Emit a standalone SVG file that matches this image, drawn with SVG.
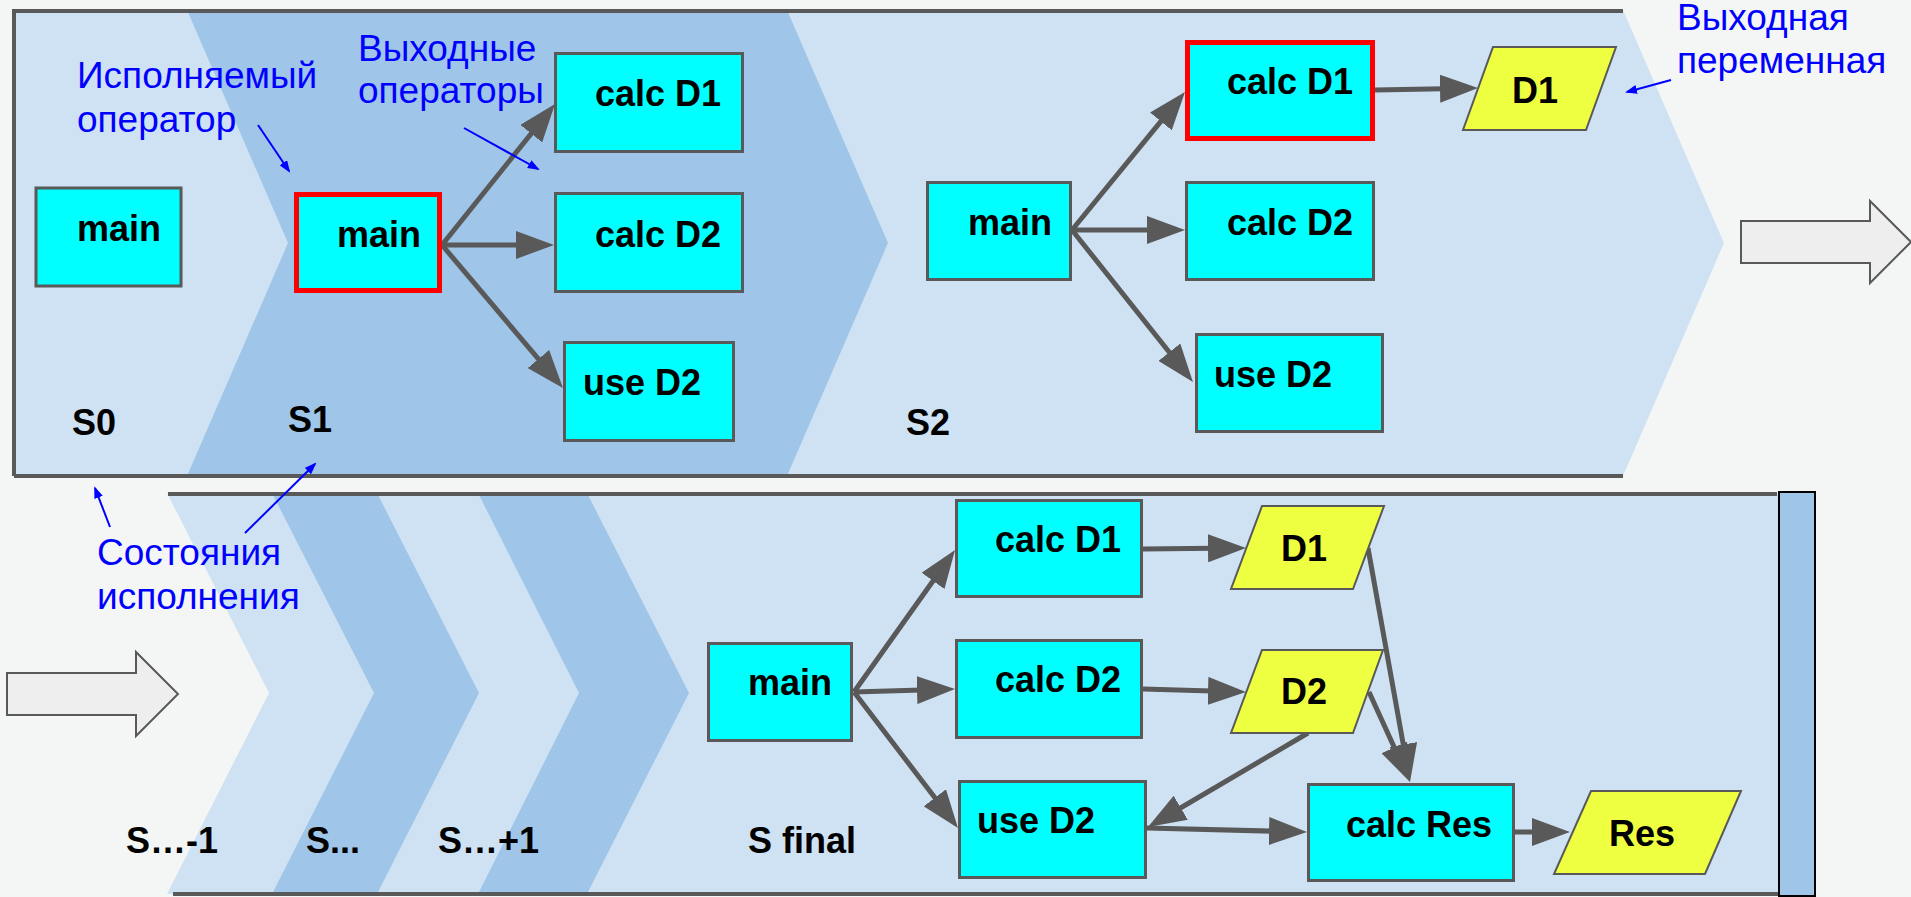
<svg xmlns="http://www.w3.org/2000/svg" width="1911" height="897" viewBox="0 0 1911 897">
  <style>
    .bg { fill: #f4f6f5; }
    .light { fill: #cfe2f3; }
    .dark { fill: #9fc5e8; }
    .frame { fill: none; stroke: #595959; stroke-width: 4; }
    .op { fill: #00ffff; stroke: #595959; stroke-width: 3; }
    .op-active { fill: #00ffff; stroke: #ff0000; stroke-width: 5; }
    .var { fill: #eeff41; stroke: #595959; stroke-width: 2; }
    .big-arrow { fill: #eeeeee; stroke: #595959; stroke-width: 2; }
    .t { font-family: "Liberation Sans", Arial, sans-serif; font-weight: bold; font-size: 36px; fill: #000000; }
    .note { font-family: "Liberation Sans", Arial, sans-serif; font-size: 37px; fill: #0000ff; }
    .edge { fill: none; stroke: #595959; stroke-width: 5; marker-end: url(#head); }
    .pointer { fill: none; stroke: #0000ff; stroke-width: 2; marker-end: url(#bhead); }
  </style>
  <defs>
    <marker id="head" markerUnits="userSpaceOnUse" viewBox="0 0 38 28" refX="30" refY="14" markerWidth="38" markerHeight="28" orient="auto">
      <path d="M0,0 L38,14 L0,28 z" fill="#595959"/>
    </marker>
    <marker id="bhead" markerUnits="userSpaceOnUse" viewBox="0 0 12 9" refX="10" refY="4.5" markerWidth="12" markerHeight="9" orient="auto">
      <path d="M0,0 L12,4.5 L0,9 z" fill="#0000ff"/>
    </marker>
  </defs>

  <rect class="bg" x="0" y="0" width="1911" height="897"/>

  <!-- upper strip: states S0, S1, S2 -->
  <g id="upper-band">
    <polygon class="light" points="13,10 1623,10 1724,243 1623,476 13,476"/>
    <polygon class="dark" points="187,10 787,10 888,243 787,476 187,476 288,243"/>
    <path class="frame" d="M14,476 V11 H1623 M14,476 H1623"/>
  </g>

  <!-- lower strip: intermediate states and final state -->
  <g id="lower-band">
    <polygon class="light" points="167,493 1779,493 1779,894 167,894 269,693"/>
    <polygon class="dark" points="272,493 377,493 479,693 377,894 272,894 374,693"/>
    <polygon class="dark" points="478,493 587,493 689,693 587,894 478,894 579,693"/>
    <path class="frame" d="M168,494 H1777 M173,894 H1796"/>
    <rect x="1779" y="492" width="36" height="404" fill="#9fc5e8" stroke="#000000" stroke-width="2"/>
  </g>

  <!-- transition arrows between strips -->
  <g id="arrow-out">
    <polygon class="big-arrow" points="1741,221 1870,221 1870,201 1911,242 1870,283 1870,263 1741,263"/>
  </g>
  <g id="arrow-in">
    <polygon class="big-arrow" points="7,673 136,673 136,652 178,694 136,736 136,715 7,715"/>
  </g>

  <!-- state labels -->
  <g id="state-labels">
    <text class="t" x="72" y="435">S0</text>
    <text class="t" x="288" y="432">S1</text>
    <text class="t" x="906" y="435">S2</text>
    <text class="t" x="126" y="853">S…-1</text>
    <text class="t" x="306" y="853">S...</text>
    <text class="t" x="438" y="853">S…+1</text>
    <text class="t" x="748" y="853">S final</text>
  </g>

  <!-- connectors -->
  <g id="connectors">
    <!-- S1 -->
    <line class="edge" x1="442" y1="245" x2="550" y2="110.2"/>
    <line class="edge" x1="442" y1="245" x2="546" y2="245"/>
    <line class="edge" x1="442" y1="245" x2="557.8" y2="381.9"/>
    <!-- S2 -->
    <line class="edge" x1="1072" y1="230" x2="1179.9" y2="98.2"/>
    <line class="edge" x1="1072" y1="230" x2="1177" y2="230"/>
    <line class="edge" x1="1072" y1="230" x2="1188" y2="375.7"/>
    <line class="edge" x1="1375" y1="90" x2="1470" y2="88.2"/>
    <!-- S final -->
    <line class="edge" x1="854" y1="692" x2="950.4" y2="556.5"/>
    <line class="edge" x1="854" y1="692" x2="947" y2="689.2"/>
    <line class="edge" x1="854" y1="692" x2="953.1" y2="821.6"/>
    <line class="edge" x1="1143" y1="549" x2="1238" y2="548"/>
    <line class="edge" x1="1143" y1="689" x2="1238" y2="691.8"/>
    <line class="edge" x1="1368" y1="548" x2="1408.6" y2="774.1"/>
    <line class="edge" x1="1369" y1="692" x2="1406.7" y2="774.7"/>
    <line class="edge" x1="1308" y1="733" x2="1154.9" y2="823"/>
    <line class="edge" x1="1147" y1="828" x2="1299" y2="831.8"/>
    <line class="edge" x1="1515" y1="832" x2="1562" y2="832"/>
  </g>

  <!-- S0 -->
  <g id="s0-main"><rect class="op" x="36" y="188" width="145" height="98"/><text class="t" x="77" y="241">main</text></g>

  <!-- S1 -->
  <g id="s1-main"><rect class="op-active" x="296.5" y="194.5" width="143" height="96"/><text class="t" x="337" y="247">main</text></g>
  <g id="s1-calc-d1"><rect class="op" x="555.5" y="53.5" width="187" height="98"/><text class="t" x="595" y="106">calc D1</text></g>
  <g id="s1-calc-d2"><rect class="op" x="555.5" y="193.5" width="187" height="98"/><text class="t" x="595" y="247">calc D2</text></g>
  <g id="s1-use-d2"><rect class="op" x="564.5" y="342.5" width="169" height="98"/><text class="t" x="583" y="395">use D2</text></g>

  <!-- S2 -->
  <g id="s2-main"><rect class="op" x="927.5" y="182.5" width="143" height="97"/><text class="t" x="968" y="235">main</text></g>
  <g id="s2-calc-d1"><rect class="op-active" x="1187.5" y="42.5" width="185" height="96"/><text class="t" x="1227" y="94">calc D1</text></g>
  <g id="s2-d1"><polygon class="var" points="1493,47 1616,47 1586,130 1463,130"/><text class="t" x="1512" y="103">D1</text></g>
  <g id="s2-calc-d2"><rect class="op" x="1186.5" y="182.5" width="187" height="97"/><text class="t" x="1227" y="235">calc D2</text></g>
  <g id="s2-use-d2"><rect class="op" x="1196.5" y="334.5" width="186" height="97"/><text class="t" x="1214" y="387">use D2</text></g>

  <!-- S final -->
  <g id="sf-main"><rect class="op" x="708.5" y="643.5" width="143" height="97"/><text class="t" x="748" y="695">main</text></g>
  <g id="sf-calc-d1"><rect class="op" x="956.5" y="500.5" width="185" height="96"/><text class="t" x="995" y="552">calc D1</text></g>
  <g id="sf-calc-d2"><rect class="op" x="956.5" y="640.5" width="185" height="97"/><text class="t" x="995" y="692">calc D2</text></g>
  <g id="sf-use-d2"><rect class="op" x="959.5" y="781.5" width="186" height="96"/><text class="t" x="977" y="833">use D2</text></g>
  <g id="sf-d1"><polygon class="var" points="1262,506 1384,506 1353,589 1231,589"/><text class="t" x="1281" y="561">D1</text></g>
  <g id="sf-d2"><polygon class="var" points="1262,650 1383,650 1353,733 1231,733"/><text class="t" x="1281" y="704">D2</text></g>
  <g id="sf-calc-res"><rect class="op" x="1308.5" y="784.5" width="205" height="96"/><text class="t" x="1346" y="837">calc Res</text></g>
  <g id="sf-res"><polygon class="var" points="1591,791 1741,791 1705,874 1554,874"/><text class="t" x="1609" y="846">Res</text></g>

  <!-- annotations -->
  <g id="note-executed">
    <text class="note" x="77" y="88">Исполняемый</text>
    <text class="note" x="77" y="132">оператор</text>
    <line class="pointer" x1="258" y1="125" x2="289" y2="171"/>
  </g>
  <g id="note-outputs">
    <text class="note" x="358" y="61">Выходные</text>
    <text class="note" x="358" y="103">операторы</text>
    <line class="pointer" x1="464" y1="128" x2="538" y2="169"/>
  </g>
  <g id="note-output-var">
    <text class="note" x="1677" y="30">Выходная</text>
    <text class="note" x="1677" y="73">переменная</text>
    <line class="pointer" x1="1671" y1="80" x2="1627" y2="92"/>
  </g>
  <g id="note-states">
    <text class="note" x="97" y="565">Состояния</text>
    <text class="note" x="97" y="609">исполнения</text>
    <line class="pointer" x1="110" y1="527" x2="95" y2="488"/>
    <line class="pointer" x1="245" y1="533" x2="315" y2="464"/>
  </g>
</svg>
